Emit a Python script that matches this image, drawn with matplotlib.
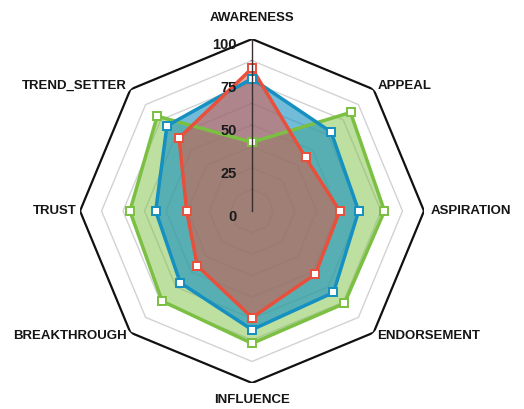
import matplotlib.pyplot as plt
import numpy as np

categories = ["AWARENESS", "APPEAL", "ASPIRATION", "ENDORSEMENT",
              "INFLUENCE", "BREAKTHROUGH", "TRUST", "TREND_SETTER"]
green_vals = [40, 81, 77, 76, 77, 74, 71, 78]
blue_vals = [77, 65, 62, 67, 69, 59, 56, 70]
red_vals = [83, 44, 51, 52, 62, 45, 38, 60]
tick_vals = [0, 25, 50, 75, 100]
ring_vals = [12.5, 25, 37.5, 50, 62.5, 75, 87.5]

series = [
    (green_vals, "#7cc043", 0.5),
    (blue_vals, "#1590c0", 0.6),
    (red_vals, "#e8503c", 0.5),
]

n = len(categories)
theta = np.arange(n) * 2 * np.pi / n
theta_c = np.append(theta, theta[0])


def closed(vals):
    return np.append(vals, vals[0])


fig = plt.figure(figsize=(5.24, 4.09), dpi=100)
ax = fig.add_axes([0.1527, 0.0636, 0.6565, 0.841], projection="polar")
ax.set_theta_zero_location("N")
ax.set_theta_direction(-1)
ax.set_ylim(0, 100)
ax.axis("off")

# grid rings
for r in ring_vals:
    ax.plot(theta_c, np.full(n + 1, r), color="#d2d2d6", lw=1.0, zorder=1)
ax.plot(theta_c, np.full(n + 1, 100), color="#111111", lw=1.6, zorder=1)

for vals, color, alpha in series:
    ax.fill(theta_c, closed(vals), color=color, alpha=alpha, lw=0, zorder=2)
for vals, color, alpha in series:
    ax.plot(theta_c, closed(vals), color=color, lw=2.5, zorder=3)
    ax.plot(theta, vals, ls="none", marker="s", ms=5.5, mfc="white",
            mec=color, mew=1.4, zorder=4)

# vertical value axis
ax.plot([0, 0], [0, 100], color="#3a3030", lw=1.0, zorder=5)
for r in np.arange(0, 100, 12.5):
    ax.annotate("", xy=(0, r), xytext=(-3, 0), textcoords="offset points",
                arrowprops=dict(arrowstyle="-", color="#777777", lw=0.6))
for v in tick_vals:
    ax.annotate(str(v), xy=(0, v), xytext=(-11, -4), textcoords="offset points",
                ha="right", va="center", fontsize=10.5, fontweight="bold",
                color="#1a1a1a", family="Liberation Sans", zorder=6)

label_pos = [
    (112, "center", "center"),
    (103, "left", "center"),
    (104, "left", "center"),
    (103, "left", "center"),
    (110, "center", "center"),
    (103, "right", "center"),
    (102, "right", "center"),
    (103, "right", "center"),
]
for name, t, (r, ha, va) in zip(categories, theta, label_pos):
    ax.text(t, r, name, ha=ha, va=va, fontsize=9.5, fontweight="bold",
            color="#151515", family="Liberation Sans")

fig.savefig("out.png", dpi=100)
